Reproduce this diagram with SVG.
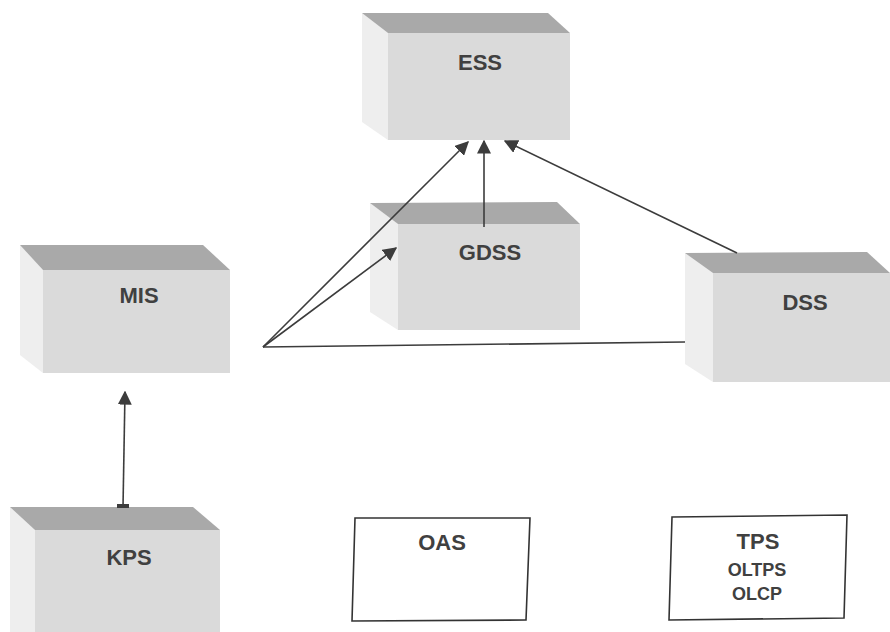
<svg xmlns="http://www.w3.org/2000/svg" width="890" height="632" viewBox="0 0 890 632">
  <style>
    .top { fill: #a9a9a9; }
    .side { fill: #eeeeee; }
    .front { fill: #dadada; }
    .lbl { font-family: "Liberation Sans", Arial, sans-serif; font-weight: bold; font-size: 22px; fill: #404040; text-anchor: middle; }
    .sub { font-size: 18px; }
    .plain { fill: #ffffff; stroke: #333333; stroke-width: 1.6; }
    .conn { stroke: #3c3c3c; stroke-width: 1.6; fill: none; }
  </style>
  <defs>
    <marker id="headL" viewBox="0 0 10 10" refX="9" refY="5" markerWidth="14" markerHeight="14" markerUnits="userSpaceOnUse" orient="auto">
      <path d="M0,0 L10,5 L0,10 Z" fill="#3c3c3c"/>
    </marker>
  </defs>
  <rect width="890" height="632" fill="#ffffff"/>

  <!-- 3D boxes: side face, top face, front face -->
  <g id="ESS">
    <polygon class="side" points="362,13 388,33 388,140 362,122"/>
    <polygon class="top" points="362,13 548,13 570,33 388,33"/>
    <rect class="front" x="388" y="33" width="182" height="107"/>
    <text class="lbl" x="480" y="70">ESS</text>
  </g>
  <g id="MIS">
    <polygon class="side" points="20,245 43,270 43,373 20,355"/>
    <polygon class="top" points="20,245 203,245 230,270 43,270"/>
    <rect class="front" x="43" y="270" width="187" height="103"/>
    <text class="lbl" x="139" y="303">MIS</text>
  </g>
  <g id="GDSS">
    <polygon class="side" points="370,203 398,224 398,330 370,312"/>
    <polygon class="top" points="370,203 557,202 580,224 398,224"/>
    <rect class="front" x="398" y="224" width="182" height="106"/>
    <text class="lbl" x="490" y="260">GDSS</text>
  </g>
  <g id="DSS">
    <polygon class="side" points="685,253 713,273 713,382 685,364"/>
    <polygon class="top" points="685,253 867,252 890,273 713,273"/>
    <rect class="front" x="713" y="273" width="177" height="109"/>
    <text class="lbl" x="805" y="310">DSS</text>
  </g>
  <g id="KPS">
    <polygon class="side" points="10,507 35,530 35,632 10,632"/>
    <polygon class="top" points="10,507 193,507 220,530 35,530"/>
    <rect class="front" x="35" y="530" width="185" height="102"/>
    <text class="lbl" x="129" y="565">KPS</text>
  </g>

  <!-- plain boxes -->
  <g id="OAS">
    <polygon class="plain" points="355,518 530,518 526,620 352,621"/>
    <text class="lbl" x="442" y="550">OAS</text>
  </g>
  <g id="TPS">
    <polygon class="plain" points="672,517 847,515 844,618 669,620"/>
    <text class="lbl" x="758" y="549">TPS</text>
    <text class="lbl sub" x="757" y="576">OLTPS</text>
    <text class="lbl sub" x="757" y="600">OLCP</text>
  </g>

  <!-- connectors -->
  <g id="connectors">
    <line class="conn" x1="263" y1="347" x2="468" y2="142" marker-end="url(#headL)"/>
    <line class="conn" x1="263" y1="347" x2="396" y2="248" marker-end="url(#headL)"/>
    <line class="conn" x1="263" y1="347" x2="685" y2="342"/>
    <line class="conn" x1="484" y1="227" x2="484" y2="141" marker-end="url(#headL)"/>
    <line class="conn" x1="737" y1="253" x2="505" y2="141" marker-end="url(#headL)"/>
    <line class="conn" x1="123" y1="507" x2="125" y2="392" marker-end="url(#headL)"/>
    <rect x="117" y="504" width="12" height="4" fill="#3c3c3c"/>
  </g>
</svg>
